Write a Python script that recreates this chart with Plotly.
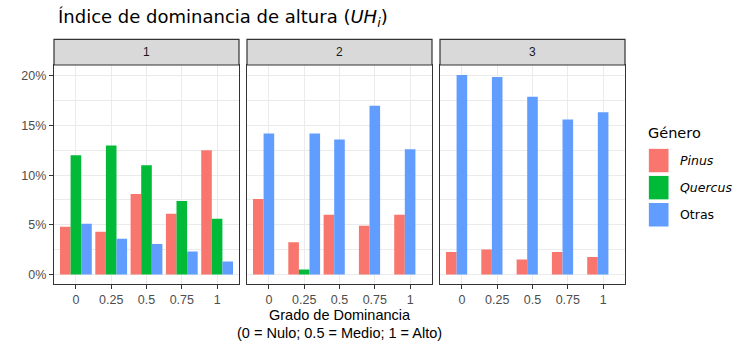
import plotly.graph_objects as go

# ---------------- data ----------------
categories = ["0", "0.25", "0.5", "0.75", "1"]
panels = ["1", "2", "3"]
series_names = ["Pinus", "Quercus", "Otras"]
series_colors = ["#F8766D", "#00BA38", "#619CFF"]

pinus_p1 = [4.8, 4.3, 8.1, 6.1, 12.5]
quercus_p1 = [12.0, 13.0, 11.0, 7.4, 5.6]
otras_p1 = [5.1, 3.6, 3.05, 2.3, 1.3]

pinus_p2 = [7.6, 3.25, 6.0, 4.9, 6.0]
quercus_p2 = [None, 0.5, None, None, None]
otras_p2 = [14.2, 14.2, 13.6, 17.0, 12.6]

pinus_p3 = [2.25, 2.5, 1.5, 2.25, 1.75]
quercus_p3 = [None, None, None, None, None]
otras_p3 = [20.1, 19.9, 17.9, 15.6, 16.35]

y_tick_vals = [0, 5, 10, 15, 20]
y_tick_text = ["0%", "5%", "10%", "15%", "20%"]

panel_data = [
    [pinus_p1, quercus_p1, otras_p1],
    [pinus_p2, quercus_p2, otras_p2],
    [pinus_p3, quercus_p3, otras_p3],
]

# ---------------- layout geometry ----------------
W, H = 755, 353
px_x = lambda v: v / W
px_y = lambda v: 1 - v / H

x_domains = [(54, 239), (247, 432), (440, 625)]
plot_top, plot_bot = 65, 284.3
strip_top = 39.3

dodge_total = 0.9
n_slots = 3
bw = dodge_total / n_slots

fig = go.Figure()

for p, data in enumerate(panel_data):
    xa = "x" if p == 0 else f"x{p+1}"
    ya = "y" if p == 0 else f"y{p+1}"
    for s, vals in enumerate(data):
        xs, ys, offs = [], [], []
        for i, v in enumerate(vals):
            if v is None:
                continue
            # left-aligned dodge (preserve = "single")
            slot = sum(1 for k in range(s) if data[k][i] is not None)
            xs.append(i)
            ys.append(v)
            offs.append(-dodge_total / 2 + slot * bw)
        fig.add_trace(go.Bar(
            x=xs, y=ys, offset=offs, width=bw,
            marker=dict(color=series_colors[s], line=dict(width=0)),
            name=series_names[s], showlegend=False,
            xaxis=xa, yaxis=ya,
            hovertemplate=series_names[s] + ": %{y}%<extra></extra>",
        ))

grid_col = "#EBEBEB"
tick_font = dict(family="Liberation Sans, Arial", size=12.5, color="#4D4D4D")
layout = dict(
    width=W, height=H,
    margin=dict(l=0, r=0, t=0, b=0, autoexpand=False),
    paper_bgcolor="white", plot_bgcolor="white",
    barmode="overlay", showlegend=False,
)
for p, (x0, x1) in enumerate(x_domains):
    key = "xaxis" if p == 0 else f"xaxis{p+1}"
    layout[key] = dict(
        domain=[px_x(x0), px_x(x1)],
        tickmode="array", tickvals=list(range(len(categories))), ticktext=categories,
        range=[-0.62, len(categories) - 1 + 0.62],
        showgrid=True, gridcolor=grid_col, gridwidth=1.1,
        showline=True, linecolor="#333333", linewidth=1.2, mirror=True,
        ticks="outside", ticklen=4, tickcolor="#333333", tickwidth=1,
        tickfont=tick_font, zeroline=False, fixedrange=True,
        anchor="y" if p == 0 else f"y{p+1}", automargin=False,
    )
    ykey = "yaxis" if p == 0 else f"yaxis{p+1}"
    yax = dict(
        domain=[px_y(plot_bot), px_y(plot_top)],
        range=[-1.0, 21.1],
        tickmode="array", tickvals=y_tick_vals, ticktext=y_tick_text,
        showgrid=True, gridcolor=grid_col, gridwidth=1.1,
        minor=dict(dtick=2.5, tick0=0, showgrid=True, gridcolor=grid_col, gridwidth=0.6, ticks=""),
        showline=True, linecolor="#333333", linewidth=1.2, mirror=True,
        zeroline=False, fixedrange=True, automargin=False,
        anchor="x" if p == 0 else f"x{p+1}",
    )
    if p == 0:
        yax.update(ticks="outside", ticklen=4, tickcolor="#333333", tickfont=tick_font)
    else:
        yax.update(showticklabels=False, ticks="", matches="y")
    layout[ykey] = yax
fig.update_layout(**layout)

shapes = []
annotations = []
# strips
for p, (x0, x1) in enumerate(x_domains):
    shapes.append(dict(type="rect", xref="paper", yref="paper",
                       x0=px_x(x0), x1=px_x(x1), y0=px_y(plot_top), y1=px_y(strip_top),
                       fillcolor="#D9D9D9", line=dict(color="#333333", width=1.2), layer="above"))
    annotations.append(dict(xref="paper", yref="paper", x=px_x((x0 + x1) / 2),
                            y=px_y((plot_top + strip_top) / 2), text=panels[p], showarrow=False,
                            font=dict(family="Liberation Sans, Arial", size=12, color="#1A1A1A"),
                            xanchor="center", yanchor="middle"))

# title
annotations.append(dict(xref="paper", yref="paper", x=px_x(56), y=px_y(17.5),
                        text="Índice de dominancia de altura (<i>UH</i><sub><i>i</i></sub>)",
                        showarrow=False, xanchor="left", yanchor="middle",
                        font=dict(family="DejaVu Sans", size=18, color="black")))
# x axis title (two lines)
annotations.append(dict(xref="paper", yref="paper", x=px_x(339.5), y=px_y(315),
                        text="Grado de Dominancia",
                        showarrow=False, xanchor="center", yanchor="middle",
                        font=dict(family="Liberation Sans, Arial", size=14.5, color="black")))
annotations.append(dict(xref="paper", yref="paper", x=px_x(339.5), y=px_y(332.5),
                        text="(0 = Nulo; 0.5 = Medio; 1 = Alto)",
                        showarrow=False, xanchor="center", yanchor="middle",
                        font=dict(family="Liberation Sans, Arial", size=14.5, color="black")))

# legend (drawn)
annotations.append(dict(xref="paper", yref="paper", x=px_x(646), y=px_y(133),
                        text="Género", showarrow=False, xanchor="left", yanchor="middle",
                        font=dict(family="DejaVu Sans", size=14.5, color="black")))
key_top = 148.3
key_h = 24.5
for s, name in enumerate(series_names):
    y0 = key_top + s * (key_h + 2.6)
    shapes.append(dict(type="rect", xref="paper", yref="paper",
                       x0=px_x(648.3), x1=px_x(669), y0=px_y(y0 + key_h), y1=px_y(y0),
                       fillcolor=series_colors[s], line=dict(color="white", width=1)))
    label = f"<i>{name}</i>" if s < 2 else name
    annotations.append(dict(xref="paper", yref="paper", x=px_x(678), y=px_y(y0 + key_h / 2),
                            text=label, showarrow=False, xanchor="left", yanchor="middle",
                            font=dict(family="DejaVu Sans", size=12.5, color="black")))

fig.update_layout(shapes=shapes, annotations=annotations)
fig.write_html("out.html", config={"displayModeBar": False},
               post_script="document.body.style.margin='0px';document.body.style.overflow='hidden';")
